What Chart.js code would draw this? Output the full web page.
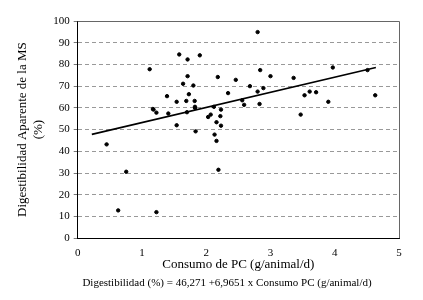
<!DOCTYPE html>
<html>
<head>
<meta charset="utf-8">
<script src="https://cdn.jsdelivr.net/npm/chart.js@4"></script>
<style>
  html, body { margin: 0; padding: 0; background: #fff; }
  #wrap { width: 423px; height: 300px; }
</style>
</head>
<body>
<div id="wrap"><canvas id="c" width="423" height="300"></canvas></div>
<script>
/* datos */
const consumo = [0.45, 0.63, 0.755, 1.12, 1.17, 1.18, 1.225, 1.225, 1.39, 1.41,
  1.54, 1.54, 1.58, 1.64, 1.69, 1.70, 1.71, 1.71, 1.73, 1.80,
  1.82, 1.825, 1.825, 1.835, 1.90, 2.03, 2.07, 2.12, 2.13, 2.16,
  2.16, 2.18, 2.19, 2.22, 2.23, 2.23, 2.34, 2.46, 2.56, 2.59,
  2.68, 2.80, 2.80, 2.84, 2.83, 2.89, 3.00, 3.36, 3.47, 3.53,
  3.61, 3.71, 3.90, 3.97, 4.51, 4.63];
const digestibilidad = [43.2, 12.8, 30.6, 77.8, 59.5, 59.2, 57.8, 12.0, 65.4, 57.4,
  62.8, 52.0, 84.6, 71.1, 63.2, 58.0, 82.3, 74.6, 66.3, 70.3,
  63.2, 60.5, 60.0, 49.2, 84.2, 55.8, 56.9, 60.5, 47.7, 44.8,
  53.4, 74.2, 31.5, 56.2, 59.2, 51.8, 66.8, 72.9, 63.5, 61.4,
  70.0, 67.5, 94.9, 77.4, 61.8, 69.1, 74.6, 73.8, 56.9, 65.8,
  67.5, 67.2, 62.8, 78.6, 77.4, 65.8];

// recta de regresion
const intercepto = 46.271;
const pendiente = 6.9651;
const rectaX = [0.22, 4.64];

const xTicks = [0, 1, 2, 3, 4, 5];
const yTicks = [0, 10, 20, 30, 40, 50, 60, 70, 80, 90, 100];
const ecuacion = 'Digestibilidad (%) = 46,271 +6,9651 x Consumo PC (g/animal/d)';

const serif = "'Liberation Serif', 'Times New Roman', serif";

const puntos = consumo.map((x, i) => ({ x, y: digestibilidad[i] }));
const recta = rectaX.map(x => ({ x, y: intercepto + pendiente * x }));

/* marco gris arriba y a la derecha + ecuacion debajo */
const marco = {
  id: 'marco',
  afterDraw(chart) {
    const { ctx, chartArea: a } = chart;
    ctx.save();
    ctx.strokeStyle = '#666';
    ctx.lineWidth = 1;
    ctx.beginPath();
    ctx.moveTo(a.left, a.top + 0.5);
    ctx.lineTo(a.right + 0.5, a.top + 0.5);
    ctx.lineTo(a.right + 0.5, a.bottom);
    ctx.stroke();
    ctx.fillStyle = '#000';
    ctx.font = '11px ' + serif;
    ctx.textAlign = 'center';
    ctx.textBaseline = 'middle';
    ctx.fillText(ecuacion, 227, 283);
    ctx.restore();
  }
};

new Chart(document.getElementById('c'), {
  type: 'scatter',
  data: {
    datasets: [
      { data: puntos, backgroundColor: '#000', borderColor: '#000', pointRadius: 1.7, pointHoverRadius: 1.7 },
      { type: 'line', data: recta, borderColor: '#000', borderWidth: 1.6, pointRadius: 0, fill: false, tension: 0 }
    ]
  },
  options: {
    responsive: false,
    animation: false,
    layout: { padding: { top: 21, right: 24, left: 15, bottom: 28 } },
    plugins: {
      legend: { display: false },
      tooltip: { enabled: false }
    },
    scales: {
      x: {
        type: 'linear', min: 0, max: 5,
        afterBuildTicks: ax => { ax.ticks = xTicks.map(v => ({ value: v })); },
        grid: { display: false, drawTicks: false },
        border: { color: '#000', width: 1 },
        ticks: { color: '#000', font: { family: serif, size: 11 }, padding: 8 },
        title: {
          display: true, text: 'Consumo de PC (g/animal/d)', color: '#000',
          font: { family: serif, size: 13 }, padding: { top: -11, bottom: 0 }
        }
      },
      y: {
        min: 0, max: 100,
        afterBuildTicks: ax => { ax.ticks = yTicks.map(v => ({ value: v })); },
        grid: {
          drawTicks: true, tickLength: 4, tickColor: '#777',
          color: c => (c.tick.value === 0 || c.tick.value === 100) ? 'rgba(0,0,0,0)' : '#999'
        },
        border: { color: '#000', width: 1, dash: [4, 3] },
        ticks: { color: '#000', font: { family: serif, size: 11 }, padding: 4 },
        title: {
          display: true, text: ['Digestibilidad Aparente de la MS', '(%)'], color: '#000',
          font: { family: serif, size: 13 }, padding: { top: 0, bottom: 3 }
        }
      }
    }
  },
  plugins: [marco]
});
</script>
</body>
</html>
